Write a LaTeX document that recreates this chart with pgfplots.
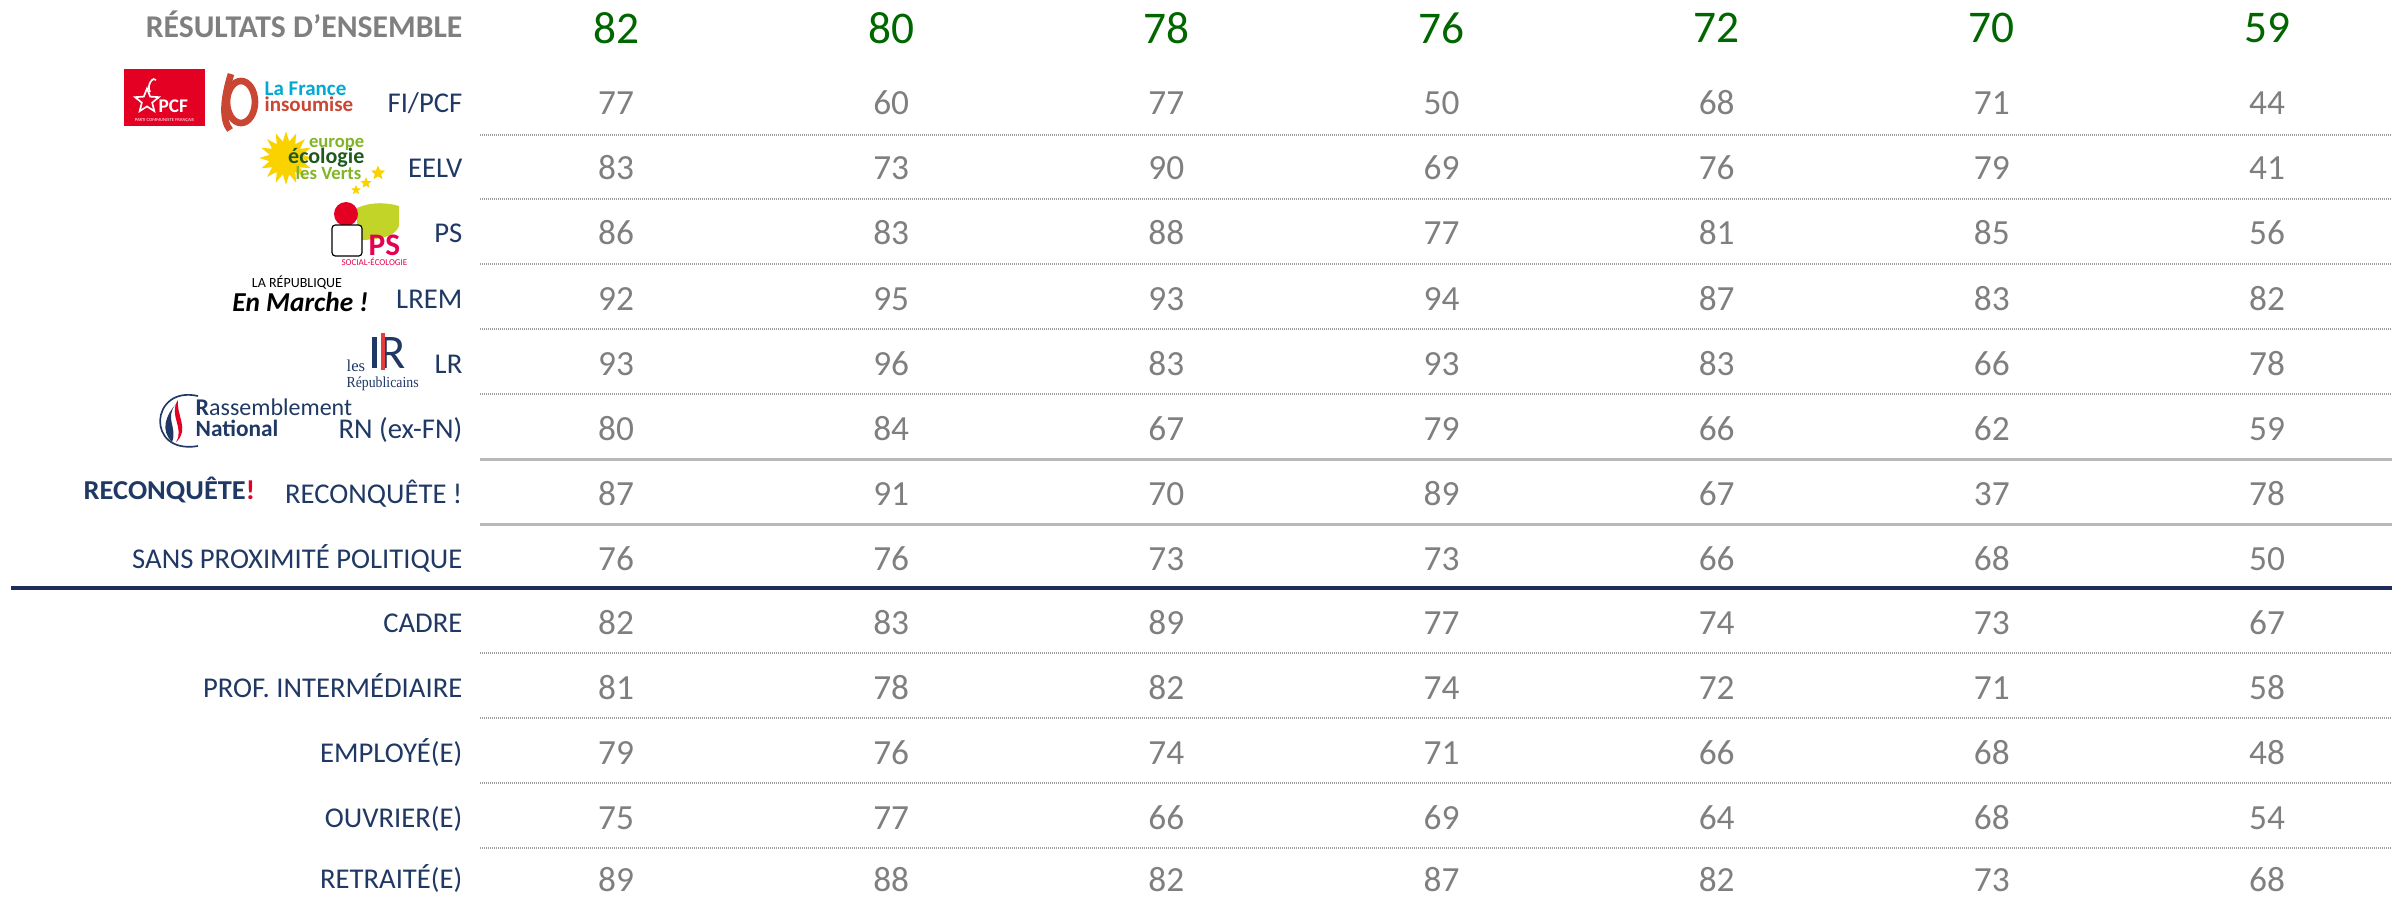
\documentclass[border=0pt]{standalone}
\usepackage{fontspec}
\setmainfont{Carlito}
\newfontfamily\serif{Liberation Serif}
\usepackage{pgfplots}
\pgfplotsset{compat=1.18}
\usepackage{pgfplotstable}
\usetikzlibrary{shapes.geometric}

\definecolor{navy}{RGB}{31,56,100}
\definecolor{navyline}{RGB}{31,45,90}
\definecolor{valgray}{RGB}{127,127,127}
\definecolor{headgreen}{RGB}{0,102,0}
\definecolor{pcfred}{RGB}{227,0,34}
\definecolor{lficyan}{RGB}{0,170,210}
\definecolor{lfired}{RGB}{200,70,50}
\definecolor{eeyellow}{RGB}{250,210,0}
\definecolor{eelight}{RGB}{130,180,40}
\definecolor{eedark}{RGB}{30,90,30}
\definecolor{pspink}{RGB}{230,0,80}
\definecolor{psleaf}{RGB}{195,212,40}
\definecolor{lrred}{RGB}{230,60,60}

% row centre (pixel y) and the seven column values
\pgfplotstableread{
y   c1 c2 c3 c4 c5 c6 c7
103 77 60 77 50 68 71 44
168 83 73 90 69 76 79 41
233 86 83 88 77 81 85 56
299 92 95 93 94 87 83 82
364 93 96 83 93 83 66 78
429 80 84 67 79 66 62 59
494 87 91 70 89 67 37 78
559 76 76 73 73 66 68 50
623 82 83 89 77 74 73 67
688 81 78 82 74 72 71 58
753 79 76 74 71 66 68 48
818 75 77 66 69 64 68 54
880 89 88 82 87 82 73 68
}\rows

\pgfplotstableread{
y  c1 c2 c3 c4 c5 c6 c7
28 82 80 78 76 72 70 59
}\overall

\newcommand{\fs}[1]{\fontsize{#1}{#1}\selectfont}

\begin{document}
\begin{tikzpicture}
\begin{axis}[
    scale only axis,
    width=717.6pt, height=269.4pt,
    xmin=0, xmax=2392, ymin=0, ymax=898,
    y dir=reverse,
    hide axis,
    clip=false,
]
\path (axis cs:0,0) rectangle (axis cs:2392,898);

% separators
\foreach \yy in {135,199,264,329,394,653,718,783,848}{
  \edef\tmp{\noexpand\draw[gray!75, line width=0.35pt, dash pattern=on 0.25pt off 0.35pt]
    (axis cs:480,\yy) -- (axis cs:2392,\yy);}\tmp
}
\draw[gray!55, line width=0.9pt] (axis cs:480,459) -- (axis cs:2392,459);
\draw[gray!55, line width=0.9pt] (axis cs:480,524) -- (axis cs:2392,524);
\draw[navyline, line width=1.2pt] (axis cs:11,588) -- (axis cs:2392,588);

% header label
\node[anchor=base east, inner sep=0pt, text=valgray, font=\bfseries\fs{9.5}] at (axis cs:463,37.5) {RÉSULTATS D’ENSEMBLE};

% row labels
\begin{scope}[every node/.style={anchor=base east, inner sep=0pt, text=navy, font=\fs{8.6}}]
\node at (axis cs:463,112) {FI/PCF};
\node at (axis cs:463,177) {EELV};
\node at (axis cs:463,242) {PS};
\node at (axis cs:463,308) {LREM};
\node at (axis cs:463,373) {LR};
\node at (axis cs:463,438) {RN (ex-FN)};
\node at (axis cs:463,503) {RECONQUÊTE !};
\node at (axis cs:463,568) {SANS PROXIMITÉ POLITIQUE};
\node at (axis cs:463,632) {CADRE};
\node at (axis cs:463,697) {PROF. INTERMÉDIAIRE};
\node at (axis cs:463,762) {EMPLOYÉ(E)};
\node at (axis cs:463,827) {OUVRIER(E)};
\node at (axis cs:463,888) {RETRAITÉ(E)};
\end{scope}

% values
\pgfplotsinvokeforeach{1,...,7}{
  \addplot[draw=none, mark=none, point meta=explicit symbolic,
    nodes near coords,
    every node near coord/.style={anchor=center, inner sep=0pt, text=valgray, font=\fs{10.6}}]
    table[x expr={616+275.17*(#1-1)}, y=y, meta=c#1] {\rows};
  \addplot[draw=none, mark=none, point meta=explicit symbolic,
    nodes near coords,
    every node near coord/.style={anchor=center, inner sep=0pt, text=headgreen, font=\fs{13.6}}]
    table[x expr={616+275.17*(#1-1)}, y=y, meta=c#1] {\overall};
}

% --- logos (rough approximations) ---
% PCF
\fill[pcfred] (axis cs:124,69) rectangle (axis cs:205,126);
\node[star, star points=5, star point ratio=2.3, draw=white, line width=0.5pt,
  minimum size=7.5pt, inner sep=0pt] at (axis cs:147,101) {};
\draw[white, line width=0.5pt] (axis cs:150,92) .. controls (axis cs:146,84) and (axis cs:154,76) .. (axis cs:156,80);
\node[anchor=base west, text=white, font=\bfseries\fs{5.8}, inner sep=0pt] at (axis cs:158,112) {PCF};
\node[anchor=base, text=white, font=\fs{1.4}, inner sep=0pt] at (axis cs:164.5,121) {PARTI COMMUNISTE FRANÇAIS};
% LFI
\draw[lfired, line width=2pt] (axis cs:241,102) ellipse [x radius=4.2pt, y radius=6.3pt];
\draw[lfired, line width=2pt] (axis cs:231,74) .. controls (axis cs:223,100) and (axis cs:222,120) .. (axis cs:230,130);
\node[anchor=base west, text=lficyan, font=\bfseries\fs{6.3}, inner sep=0pt] at (axis cs:264,95) {La France};
\node[anchor=base west, text=lfired, font=\bfseries\fs{6.3}, inner sep=0pt] at (axis cs:264,111) {insoumise};
% EELV
\node[star, star points=16, star point ratio=1.6, fill=eeyellow, minimum size=16pt, inner sep=0pt]
  at (axis cs:286,158) {};
\node[anchor=base east, text=eelight, font=\bfseries\fs{5.6}, inner sep=0pt] at (axis cs:365,147) {europe};
\node[anchor=base east, text=eedark, font=\bfseries\fs{6.6}, inner sep=0pt] at (axis cs:365,163) {écologie};
\node[anchor=base east, text=eelight, font=\bfseries\fs{5.6}, inner sep=0pt] at (axis cs:362,179) {les Verts};
\node[star, star points=5, star point ratio=2.2, fill=eeyellow, minimum size=4.5pt, inner sep=0pt] at (axis cs:378,173) {};
\node[star, star points=5, star point ratio=2.2, fill=eeyellow, minimum size=3.5pt, inner sep=0pt] at (axis cs:366,183) {};
\node[star, star points=5, star point ratio=2.2, fill=eeyellow, minimum size=3pt, inner sep=0pt] at (axis cs:356,190) {};
% PS
\fill[psleaf] (axis cs:357,208) .. controls (axis cs:375,200) and (axis cs:392,204) .. (axis cs:399,206)
  -- (axis cs:399,226) .. controls (axis cs:395,238) and (axis cs:375,240) .. (axis cs:357,240) -- cycle;
\fill[pcfred] (axis cs:346,214) circle[radius=3.6pt];
\draw[black, fill=white, line width=0.35pt, rounded corners=1pt] (axis cs:332,225) rectangle (axis cs:362,256);
\node[anchor=base west, text=pspink, font=\bfseries\fs{9.4}, inner sep=0pt] at (axis cs:368,255) {PS};
\node[anchor=base east, text=pspink, font=\fs{2.7}, inner sep=0pt] at (axis cs:408,265) {SOCIAL-ÉCOLOGIE};
% LREM
\node[anchor=base, text=black, font=\fs{4.2}, inner sep=0pt] at (axis cs:297,287) {LA RÉPUBLIQUE};
\node[anchor=base east, text=black, font=\bfseries\itshape\fs{8.2}, inner sep=0pt] at (axis cs:369,311) {En Marche !};
% LR
\fill[navy] (axis cs:372,337) rectangle (axis cs:377,368);
\node[anchor=base west, text=navy, font=\fs{14.5}, inner sep=0pt] at (axis cs:379,368) {R};
\draw[lrred, line width=1pt] (axis cs:383,333) -- (axis cs:383,370);
\node[anchor=base west, text=navy, font=\serif\fs{5}, inner sep=0pt] at (axis cs:346,371) {les};
\node[anchor=base west, text=navy, font=\serif\fs{4.6}, inner sep=0pt, xscale=0.9] at (axis cs:346,387) {Républicains};
% RN
\draw[navy, line width=0.5pt] (axis cs:198,396) .. controls (axis cs:150,385) and (axis cs:145,455) .. (axis cs:198,446);
\fill[pcfred] (axis cs:178,400) .. controls (axis cs:168,415) and (axis cs:185,428) .. (axis cs:176,442)
  .. controls (axis cs:190,430) and (axis cs:176,415) .. cycle;
\fill[navy] (axis cs:176,404) .. controls (axis cs:164,418) and (axis cs:178,428) .. (axis cs:172,442)
  .. controls (axis cs:160,430) and (axis cs:166,415) .. cycle;
\node[anchor=base west, text=navy, font=\fs{7.2}, inner sep=0pt] at (axis cs:195,415) {\textbf{R}assemblement};
\node[anchor=base west, text=navy, font=\bfseries\fs{7.0}, inner sep=0pt] at (axis cs:195,436) {National};
% Reconquete
\node[anchor=base west, text=navy, font=\bfseries\fs{8.2}, inner sep=0pt, xscale=1.04] at (axis cs:83,499) {RECONQUÊTE\textcolor{pcfred}{!}};

\end{axis}
\pgfresetboundingbox
\path (current axis.north west) rectangle (current axis.south east);
\end{tikzpicture}
\end{document}
